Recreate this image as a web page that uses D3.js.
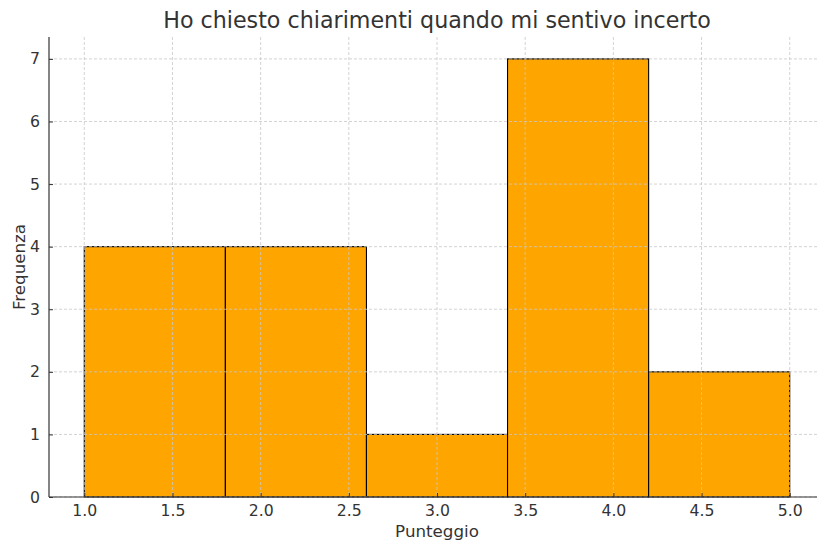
<!DOCTYPE html>
<html><head><meta charset="utf-8">
<script src="https://cdn.jsdelivr.net/npm/d3@7"></script>
<style>body{margin:0;background:#fff}svg{display:block}text{font-family:"DejaVu Sans",sans-serif;fill:#333}</style>
</head><body><svg id="c" width="817" height="544"></svg>
<script>
const binEdges = [1.0, 1.8, 2.6, 3.4, 4.2, 5.0];
const counts = [4, 4, 1, 7, 2];
const xTicks = [1.0, 1.5, 2.0, 2.5, 3.0, 3.5, 4.0, 4.5, 5.0];
const yTicks = [0, 1, 2, 3, 4, 5, 6, 7];
const title = "Ho chiesto chiarimenti quando mi sentivo incerto";
const xLabel = "Punteggio";
const yLabel = "Frequenza";

const svg = d3.select("#c");
const L = 49, R = 825, T = 37, B = 497;
const x = d3.scaleLinear().domain([0.8, 5.2]).range([L, R]);
const y = d3.scaleLinear().domain([0, 7.35]).range([B, T]);

const bins = counts.map((c, i) => ({x0: binEdges[i], x1: binEdges[i+1], c}));
svg.append("g").selectAll("rect").data(bins).join("rect")
  .attr("x", d => x(d.x0)).attr("width", d => x(d.x1) - x(d.x0))
  .attr("y", d => y(d.c)).attr("height", d => y(0) - y(d.c))
  .attr("fill", "#FFA500").attr("stroke", "#000").attr("stroke-width", 1.1);

const g = svg.append("g").attr("stroke", "#c8c8c8").attr("stroke-width", 0.8).attr("stroke-dasharray", "3,2");
g.selectAll(".vx").data(xTicks).join("line")
  .attr("x1", d => x(d)).attr("x2", d => x(d)).attr("y1", T).attr("y2", B);
g.selectAll(".hy").data(yTicks).join("line")
  .attr("x1", L).attr("x2", 817).attr("y1", d => y(d)).attr("y2", d => y(d));

const xa = svg.append("g").attr("transform", `translate(0,${B})`)
  .call(d3.axisBottom(x).tickValues(xTicks).tickFormat(d3.format(".1f")).tickSizeInner(-4).tickSizeOuter(0).tickPadding(8));
const ya = svg.append("g").attr("transform", `translate(${L},0)`)
  .call(d3.axisLeft(y).tickValues(yTicks).tickFormat(d3.format("d")).tickSizeInner(-4).tickSizeOuter(0).tickPadding(9));
[xa, ya].forEach(a => {
  a.attr("font-size", null).attr("font-family", null);
  a.select(".domain").attr("stroke", "#333").attr("stroke-width", 1.2);
  a.selectAll(".tick line").attr("stroke", "#333");
  a.selectAll("text").attr("font-size", 15.7).attr("fill", "#333");
});
ya.select(".domain").attr("d", `M0,${B}V${T}`);
xa.select(".domain").attr("d", `M${L},0H817`);

svg.append("text").attr("x", 437).attr("y", 28).attr("text-anchor", "middle")
  .attr("font-size", 22.2).text(title);
svg.append("text").attr("x", 437).attr("y", 537).attr("text-anchor", "middle")
  .attr("font-size", 16.7).text(xLabel);
svg.append("text").attr("transform", "translate(25,267) rotate(-90)").attr("text-anchor", "middle")
  .attr("font-size", 16.7).text(yLabel);
</script></body></html>
